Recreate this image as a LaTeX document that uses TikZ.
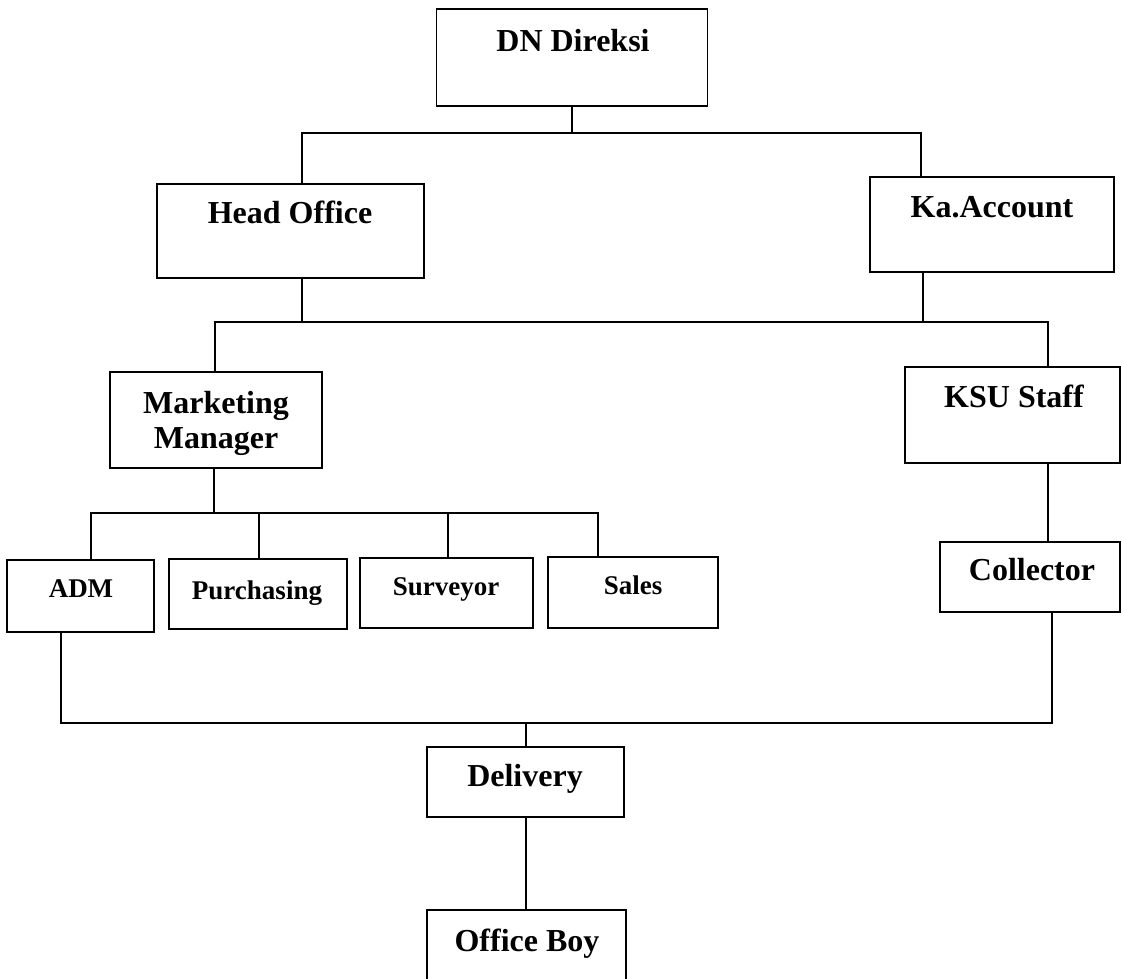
\documentclass[tikz,border=0pt]{standalone}
\usepackage{fontspec}
\setmainfont{Liberation Serif}
\begin{document}
\begin{tikzpicture}[x=1pt,y=-1pt,
  box/.style={draw,line width=1.8pt,rectangle,inner sep=0pt,outer sep=0pt},
  big/.style={font=\fontsize{32}{36}\selectfont\bfseries,anchor=base,inner sep=0pt},
  small/.style={font=\fontsize{27}{30}\selectfont\bfseries,anchor=base,inner sep=0pt},
  conn/.style={line width=1.7pt}]
\useasboundingbox (0,0) rectangle (1122,979);
\clip (0,0) rectangle (1122,979);
\fill[white] (0,0) rectangle (1122,979);
% boxes
\node[box,minimum width=271pt,minimum height=97pt] (dn) at (572,57.5) {};
\node[box,minimum width=267pt,minimum height=94pt] (head) at (290.5,231) {};
\node[box,minimum width=244pt,minimum height=95pt] (ka) at (992,224.5) {};
\node[box,minimum width=212pt,minimum height=96pt] (mm) at (216,420) {};
\node[box,minimum width=215pt,minimum height=96pt] (ksu) at (1012.5,415) {};
\node[box,minimum width=147pt,minimum height=72pt] (adm) at (80.5,596) {};
\node[box,minimum width=178pt,minimum height=70pt] (purch) at (258,594) {};
\node[box,minimum width=173pt,minimum height=70pt] (surv) at (446.5,593) {};
\node[box,minimum width=170pt,minimum height=71pt] (sales) at (633,592.5) {};
\node[box,minimum width=180pt,minimum height=70pt] (coll) at (1030,577) {};
\node[box,minimum width=197pt,minimum height=70pt] (del) at (525.5,782) {};
\node[box,minimum width=199pt,minimum height=80pt] (ob) at (526.5,950) {};
% texts
\node[big] (tdn) at (573,52) {DN Direksi};
\node[big] (thead) at (290,223) {Head Office};
\node[big] (tka) at (992,217) {Ka.Account};
\node[big] (tmm1) at (216,413) {Marketing};
\node[big] (tmm2) at (216,448) {Manager};
\node[big] (tksu) at (1014,407) {KSU Staff};
\node[small] (tadm) at (81,597) {ADM};
\node[small] (tpurch) at (257,599) {Purchasing};
\node[small] (tsurv) at (446,595) {Surveyor};
\node[small] (tsales) at (633,594) {Sales};
\node[big] (tcoll) at (1032,580) {Collector};
\node[big] (tdel) at (525,786) {Delivery};
\node[big] (tob) at (527,951) {Office Boy};
% junction coordinates
\coordinate (r1L) at (302,133);
\coordinate (r1R) at (921,133);
\coordinate (h2) at (302,322);
\coordinate (k2) at (923,322);
\coordinate (r2L) at (215,322);
\coordinate (r2R) at (1048,322);
\coordinate (m3) at (214,513);
\coordinate (r3L) at (91,513);
\coordinate (p3) at (259,513);
\coordinate (s3) at (448,513);
\coordinate (r3R) at (598,513);
\coordinate (r4L) at (61,723);
\coordinate (r4R) at (1052,723);
\coordinate (d4) at (526,723);
% connectors
\draw[conn] (dn.south) -- (dn.south |- r1L);
\draw[conn] (head.north -| r1L) -- (r1L) -- (r1R) -- (ka.north -| r1R);
\draw[conn] (head.south -| h2) -- (h2);
\draw[conn] (ka.south -| k2) -- (k2);
\draw[conn] (mm.north -| r2L) -- (r2L) -- (r2R) -- (ksu.north -| r2R);
\draw[conn] (mm.south -| m3) -- (m3);
\draw[conn] (adm.north -| r3L) -- (r3L) -- (r3R) -- (sales.north -| r3R);
\draw[conn] (p3) -- (purch.north -| p3);
\draw[conn] (s3) -- (surv.north -| s3);
\draw[conn] (ksu.south -| r2R) -- (coll.north -| r2R);
\draw[conn] (adm.south -| r4L) -- (r4L) -- (r4R) -- (coll.south -| r4R);
\draw[conn] (d4) -- (del.north -| d4);
\draw[conn] (del.south -| d4) -- (ob.north -| d4);
\end{tikzpicture}
\end{document}
